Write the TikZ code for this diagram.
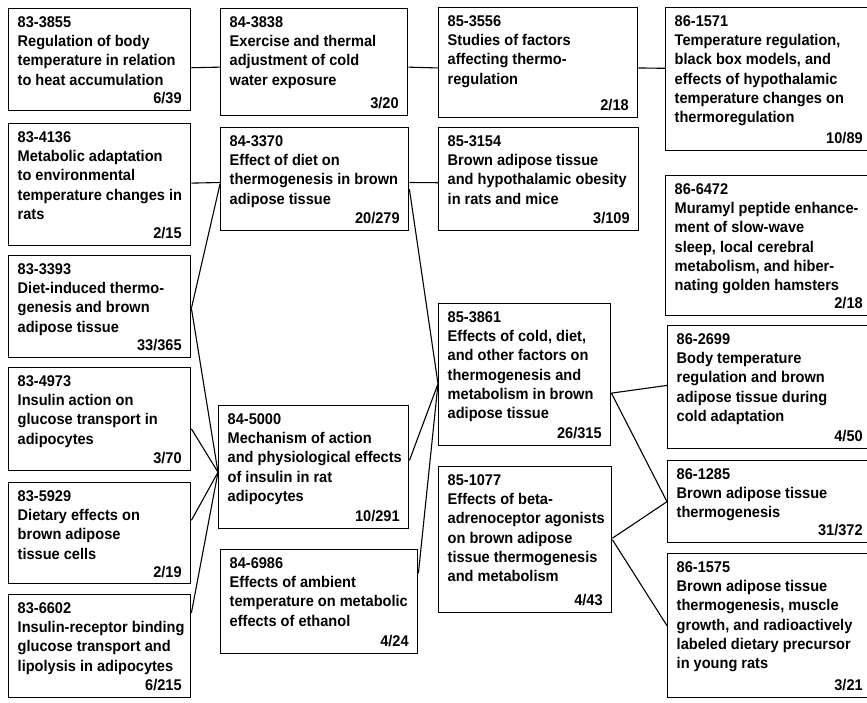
\documentclass[tikz,border=0pt]{standalone}
\usepackage{fontspec}
\setmainfont{Liberation Sans}[FakeStretch=0.94]
\usetikzlibrary{positioning}
\newcommand{\boxtext}[4]{\parbox[t][\dimexpr#2pt-13pt\relax][t]{\dimexpr#1pt-18pt\relax}{\vspace*{-1.5pt}\begin{tabular}[t]{@{}l@{}}#3\end{tabular}\par\vfill\noindent\hspace*{\fill}#4}}
\tikzset{card/.style={draw,line width=1.4pt,anchor=north west,inner xsep=9pt,inner ysep=6.5pt,
                      font=\fontsize{15.5}{19.3}\selectfont\bfseries},
         link/.style={line width=1.1pt}}

\begin{document}
\begin{tikzpicture}[x=1pt,y=-1pt]
        \useasboundingbox (0,0) rectangle (867,702);

        % 1983
        \node[card](a1)at(8,8){\boxtext{182}{102}{83-3855\\Regulation of body\\temperature in relation\\to heat accumulation}{6/39}};
        \node[card](a2)at(8,123){\boxtext{182}{122}{83-4136\\Metabolic adaptation\\to environmental\\temperature changes in\\rats}{2/15}};
        \node[card](a3)at(8,255){\boxtext{182}{102}{83-3393\\Diet-induced thermo-\\genesis and brown\\adipose tissue}{33/365}};
        \node[card](a4)at(8,367){\boxtext{182}{103}{83-4973\\Insulin action on\\glucose transport in\\adipocytes}{3/70}};
        \node[card](a5)at(8,482){\boxtext{182}{101}{83-5929\\Dietary effects on\\brown adipose\\tissue cells}{2/19}};
        \node[card](a6)at(8,594){\boxtext{182}{103}{83-6602\\Insulin-receptor binding\\glucose transport and\\lipolysis in adipocytes}{6/215}};

        % 1984
        \node[card](b1)at(220,8){\boxtext{187}{107}{84-3838\\Exercise and thermal\\adjustment of cold\\water exposure}{3/20}};
        \node[card](b2)at(220,127){\boxtext{188}{103}{84-3370\\Effect of diet on\\thermogenesis in brown\\adipose tissue}{20/279}};
        \node[card](b3)at(218,405){\boxtext{190}{123}{84-5000\\Mechanism of action\\and physiological effects\\of insulin in rat\\adipocytes}{10/291}};
        \node[card](b4)at(220,549){\boxtext{197}{104}{84-6986\\Effects of ambient\\temperature on metabolic\\effects of ethanol}{4/24}};

        % 1985
        \node[card](c1)at(438,7){\boxtext{199}{110}{85-3556\\Studies of factors\\affecting thermo-\\regulation}{2/18}};
        \node[card](c2)at(438,127){\boxtext{200}{103}{85-3154\\Brown adipose tissue\\and hypothalamic obesity\\in rats and mice}{3/109}};
        \node[card](c3)at(438,303){\boxtext{172}{142}{85-3861\\Effects of cold, diet,\\and other factors on\\thermogenesis and\\metabolism in brown\\adipose tissue}{26/315}};
        \node[card](c4)at(438,466){\boxtext{173}{146}{85-1077\\Effects of beta-\\adrenoceptor agonists\\on brown adipose\\tissue thermogenesis\\and metabolism}{4/43}};

        % 1986
        \node[card](d1)at(665,7){\boxtext{206}{143}{86-1571\\Temperature regulation,\\black box models, and\\effects of hypothalamic\\temperature changes on\\thermoregulation}{10/89}};
        \node[card](d2)at(665,175){\boxtext{206}{140}{86-6472\\Muramyl peptide enhance-\\ment of slow-wave\\sleep, local cerebral\\metabolism, and hiber-\\nating golden hamsters}{2/18}};
        \node[card](d3)at(667,325){\boxtext{204}{123}{86-2699\\Body temperature\\regulation and brown\\adipose tissue during\\cold adaptation}{4/50}};
        \node[card](d4)at(667,460){\boxtext{204}{82}{86-1285\\Brown adipose tissue\\thermogenesis}{31/372}};
        \node[card](d5)at(667,553){\boxtext{204}{144}{86-1575\\Brown adipose tissue\\thermogenesis, muscle\\growth, and radioactively\\labeled dietary precursor\\in young rats}{3/21}};

        \draw[link](a1.-5)--(b1.183);
        \draw[link](b1.-3)--(c1.183);
        \draw[link](c1.-3)--(d1.174);
        \draw[link](a2.1)--(b2.182);
        \draw[link](b2.-2)--(c2.182);
        \draw[link](b2.183)--(a3.-1);
        \draw[link](a3.-1)--(b3.183);
        \draw[link](a4.-6)--(b3.183);
        \draw[link](a5.8)--(b3.183);
        \draw[link](a6.20)--(b3.183);
        \draw[link](b2.-6)--(c3.186);
        \draw[link](b3.4)--(c3.186);
        \draw[link](b4.16)--(c3.186);
        \draw[link](c3.-12)--(d3.179);
        \draw[link](c3.-12)--(d4.180);
        \draw[link](c4.1)--(d4.180);
        \draw[link](c4.0)--(d5.180);
    \end{tikzpicture}
\end{document}
